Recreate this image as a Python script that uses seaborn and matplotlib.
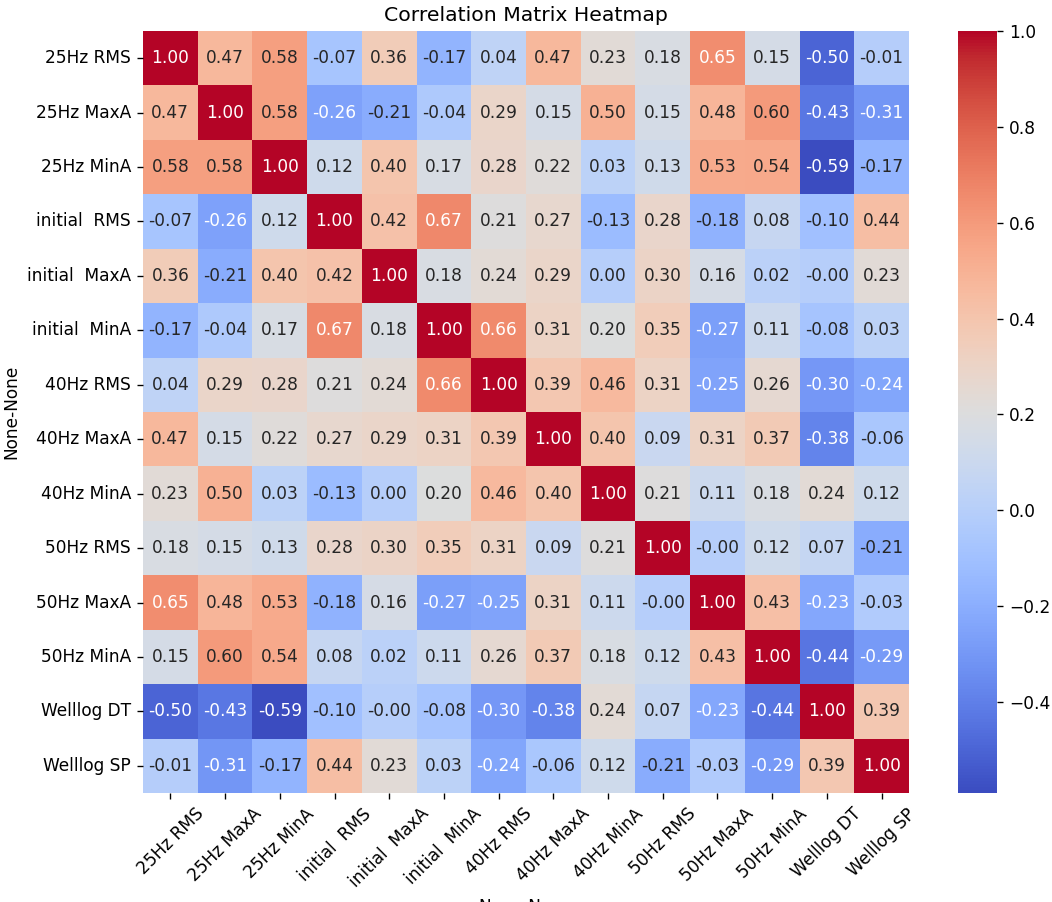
import numpy as np
import pandas as pd
import matplotlib
matplotlib.use("Agg")
import matplotlib.pyplot as plt
import seaborn as sns

labels = ["25Hz RMS", "25Hz MaxA", "25Hz MinA", "initial  RMS", "initial  MaxA",
          "initial  MinA", "40Hz RMS", "40Hz MaxA", "40Hz MinA", "50Hz RMS",
          "50Hz MaxA", "50Hz MinA", "Welllog DT", "Welllog SP"]

row_25hz_rms = [1.00, 0.47, 0.58, -0.07, 0.36, -0.17, 0.04, 0.47, 0.23, 0.18, 0.65, 0.15, -0.50, -0.01]
row_25hz_maxa = [0.47, 1.00, 0.58, -0.26, -0.21, -0.04, 0.29, 0.15, 0.50, 0.15, 0.48, 0.60, -0.43, -0.31]
row_25hz_mina = [0.58, 0.58, 1.00, 0.12, 0.40, 0.17, 0.28, 0.22, 0.03, 0.13, 0.53, 0.54, -0.59, -0.17]
row_init_rms = [-0.07, -0.26, 0.12, 1.00, 0.42, 0.67, 0.21, 0.27, -0.13, 0.28, -0.18, 0.08, -0.10, 0.44]
row_init_maxa = [0.36, -0.21, 0.40, 0.42, 1.00, 0.18, 0.24, 0.29, 0.00, 0.30, 0.16, 0.02, -0.002, 0.23]
row_init_mina = [-0.17, -0.04, 0.17, 0.67, 0.18, 1.00, 0.66, 0.31, 0.20, 0.35, -0.27, 0.11, -0.08, 0.03]
row_40hz_rms = [0.04, 0.29, 0.28, 0.21, 0.24, 0.66, 1.00, 0.39, 0.46, 0.31, -0.25, 0.26, -0.30, -0.24]
row_40hz_maxa = [0.47, 0.15, 0.22, 0.27, 0.29, 0.31, 0.39, 1.00, 0.40, 0.09, 0.31, 0.37, -0.38, -0.06]
row_40hz_mina = [0.23, 0.50, 0.03, -0.13, 0.00, 0.20, 0.46, 0.40, 1.00, 0.21, 0.11, 0.18, 0.24, 0.12]
row_50hz_rms = [0.18, 0.15, 0.13, 0.28, 0.30, 0.35, 0.31, 0.09, 0.21, 1.00, -0.002, 0.12, 0.07, -0.21]
row_50hz_maxa = [0.65, 0.48, 0.53, -0.18, 0.16, -0.27, -0.25, 0.31, 0.11, -0.002, 1.00, 0.43, -0.23, -0.03]
row_50hz_mina = [0.15, 0.60, 0.54, 0.08, 0.02, 0.11, 0.26, 0.37, 0.18, 0.12, 0.43, 1.00, -0.44, -0.29]
row_welllog_dt = [-0.50, -0.43, -0.59, -0.10, -0.002, -0.08, -0.30, -0.38, 0.24, 0.07, -0.23, -0.44, 1.00, 0.39]
row_welllog_sp = [-0.01, -0.31, -0.17, 0.44, 0.23, 0.03, -0.24, -0.06, 0.12, -0.21, -0.03, -0.29, 0.39, 1.00]

rows = [row_25hz_rms, row_25hz_maxa, row_25hz_mina, row_init_rms, row_init_maxa,
        row_init_mina, row_40hz_rms, row_40hz_maxa, row_40hz_mina, row_50hz_rms,
        row_50hz_maxa, row_50hz_mina, row_welllog_dt, row_welllog_sp]

corr = pd.DataFrame(rows, index=labels, columns=labels)

W, H = 1052, 902
dpi = 122
fig = plt.figure(figsize=(W / dpi, H / dpi), dpi=dpi)

left, right, top, bottom = 143, 909, 31, 793
ax = fig.add_axes([left / W, (H - bottom) / H, (right - left) / W, (bottom - top) / H])
cax = fig.add_axes([958 / W, (H - bottom) / H, 39 / W, (bottom - top) / H])

sns.heatmap(corr, annot=True, fmt=".2f", cmap="coolwarm", vmin=-0.59, vmax=1.0,
            ax=ax, cbar_ax=cax)

ax.set_title("Correlation Matrix Heatmap")
ax.set_xlabel("None-None")
ax.set_ylabel("None-None")
plt.setp(ax.get_xticklabels(), rotation=45, ha="center")
plt.setp(ax.get_yticklabels(), rotation=0)

fig.savefig("out.png", dpi=dpi)
